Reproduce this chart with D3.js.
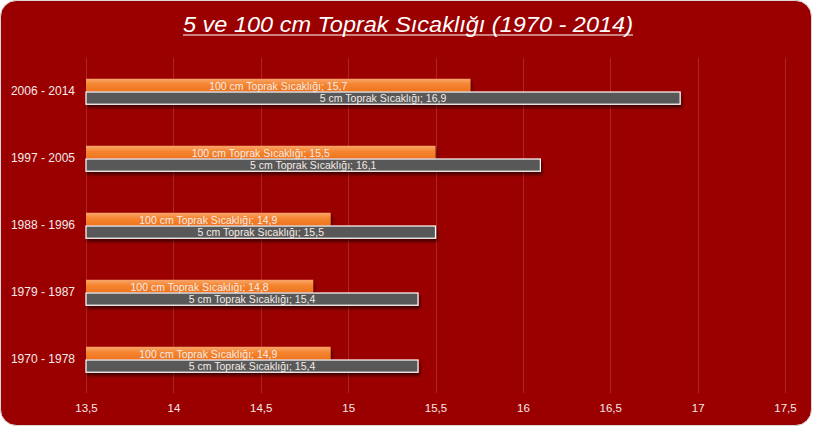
<!DOCTYPE html>
<html><head><meta charset="utf-8">
<script src="https://cdn.jsdelivr.net/npm/d3@7"></script>
<style>html,body{margin:0;padding:0;background:#fff;}svg{display:block;}</style>
</head><body>
<script>
const categories = ["2006 - 2014", "1997 - 2005", "1988 - 1996", "1979 - 1987", "1970 - 1978"];
const seriesNames = ["100 cm Toprak Sıcaklığı", "5 cm Toprak Sıcaklığı"];
const values100 = [15.7, 15.5, 14.9, 14.8, 14.9];
const values5 = [16.9, 16.1, 15.5, 15.4, 15.4];
const xTicks = [13.5, 14, 14.5, 15, 15.5, 16, 16.5, 17, 17.5];
const titleText = "5 ve 100 cm Toprak Sıcaklığı (1970 - 2014)";

const W = 813, H = 427;
const svg = d3.select("body").append("svg").attr("width", W).attr("height", H);
const defs = svg.append("defs");
const grad = defs.append("linearGradient").attr("id","og").attr("x1",0).attr("y1",0).attr("x2",0).attr("y2",1);
grad.append("stop").attr("offset","0%").attr("stop-color","#f9a66c");
grad.append("stop").attr("offset","45%").attr("stop-color","#f5842f");
grad.append("stop").attr("offset","100%").attr("stop-color","#ee7420");
const sh = defs.append("filter").attr("id","sh").attr("x","-10%").attr("y","-50%").attr("width","130%").attr("height","250%");
sh.append("feDropShadow").attr("dx",1.5).attr("dy",3).attr("stdDeviation",1.8).attr("flood-color","#000").attr("flood-opacity",0.55);

svg.append("rect").attr("x",0.5).attr("y",0.5).attr("width",W-2).attr("height",H-2).attr("rx",16)
  .attr("fill","#9b0000").attr("stroke","#d9d9d9").attr("stroke-width",1);

const x = d3.scaleLinear().domain([13.5, 17.5]).range([86, 785]);
const y = d3.scaleBand().domain(categories).range([58, 393]).paddingInner(0.62).paddingOuter(0.31);
const ys = d3.scaleBand().domain(seriesNames).range([0, y.bandwidth()]);

// gridlines
svg.append("g").selectAll("line").data(xTicks).join("line")
  .attr("x1", d => Math.round(x(d)) + 0.5).attr("x2", d => Math.round(x(d)) + 0.5)
  .attr("y1", 58).attr("y2", 393).attr("stroke", "#ad2525").attr("stroke-width", 1);

// x axis
const xAxis = svg.append("g").attr("transform","translate(0,393)")
  .call(d3.axisBottom(x).tickValues(xTicks).tickSize(0).tickPadding(11)
    .tickFormat(d => String(d).replace(".", ",")));
xAxis.select(".domain").remove();
xAxis.selectAll("text").attr("fill","#f3eaea").attr("font-size","11.5px")
  .attr("font-family","'Liberation Sans',sans-serif");

// y axis
const yAxis = svg.append("g").attr("transform","translate(75,0)")
  .call(d3.axisLeft(y).tickSize(0).tickPadding(0));
yAxis.select(".domain").remove();
yAxis.selectAll("text").attr("fill","#f3eaea").attr("font-size","12px")
  .attr("font-family","'Liberation Sans',sans-serif");

const rows = categories.map((c, i) => ({cat: c, v100: values100[i], v5: values5[i]}));
const g = svg.append("g");
rows.forEach(r => {
  const y0 = y(r.cat);
  g.append("rect").attr("x", x(13.5)).attr("y", y0 + ys(seriesNames[0]))
    .attr("width", x(r.v100) - x(13.5)).attr("height", ys.bandwidth())
    .attr("fill","url(#og)").attr("filter","url(#sh)");
  g.append("rect").attr("x", x(13.5)).attr("y", y0 + ys(seriesNames[1]) + 0.5)
    .attr("width", x(r.v5) - x(13.5)).attr("height", ys.bandwidth() - 0.5)
    .attr("fill","#595959").attr("stroke","#ffffff").attr("stroke-width",1.2).attr("filter","url(#sh)");
});
rows.forEach(r => {
  const y0 = y(r.cat);
  [[seriesNames[0], r.v100], [seriesNames[1], r.v5]].forEach(([s, v]) => {
    g.append("text").attr("x", (x(13.5) + x(v)) / 2).attr("y", y0 + ys(s) + ys.bandwidth()/2 + 0.5)
      .attr("text-anchor","middle").attr("dominant-baseline","central")
      .attr("fill","#f4ece6").attr("font-size","10.5px")
      .attr("font-family","'Liberation Sans',sans-serif")
      .text(s + "; " + String(v).replace(".", ","));
  });
});

// title
svg.append("text").attr("x", 408).attr("y", 32).attr("text-anchor","middle")
  .attr("fill","#ffffff").attr("font-size","22px").attr("font-style","italic")
  .attr("font-family","'Liberation Sans',sans-serif")
  .attr("textLength", 450).attr("lengthAdjust","spacingAndGlyphs")
  .text(titleText);
svg.append("line").attr("x1", 183).attr("x2", 633).attr("y1", 35).attr("y2", 35)
  .attr("stroke","#ffffff").attr("stroke-width",1.2);
</script>
</body></html>
